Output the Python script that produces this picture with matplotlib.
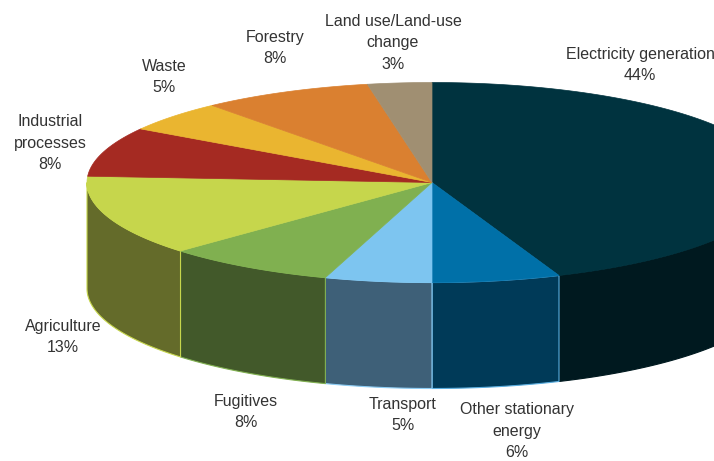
import numpy as np
import matplotlib.pyplot as plt
from matplotlib.patches import Polygon

# slices, clockwise from 12 o'clock
labels = ["Electricity generation", "Other stationary\nenergy", "Transport", "Fugitives",
          "Agriculture", "Industrial\nprocesses", "Waste", "Forestry", "Land use/Land-use\nchange"]
shares = [44, 6, 5, 8, 13, 8, 5, 8, 3]

top_colors = ["#00333f", "#0070a8", "#7dc5f0", "#80b050", "#c6d64c",
              "#a52a22", "#eab530", "#da8030", "#a08f72"]
side_colors = ["#00191f", "#003a58", "#3e6078", "#42592a", "#646b2a",
               "#5a1712", "#8a6a1c", "#7e4a1c", "#5e5443"]
edge_colors = ["#00191f", "#5aaee0", "#8ccdf5", "#80b050", "#c6d64c",
               "#5a1712", "#8a6a1c", "#7e4a1c", "#5e5443"]

# label anchor (pixel) for each slice
label_xy = [(640, 65), (517, 431), (403, 415), (246, 412), (63, 337),
            (50, 143), (164, 77), (275, 48), (393, 43)]

cx, cy, rx, ry, depth = 432, 182.5, 345, 100, 106

plt.rcParams['font.family'] = ['Liberation Sans Narrow', 'Liberation Sans', 'DejaVu Sans']

fig = plt.figure(figsize=(7.14, 4.61), dpi=100)
ax = fig.add_axes([0, 0, 1, 1])
ax.set_xlim(0, 714)
ax.set_ylim(461, 0)
ax.axis('off')


def arc(t0, t1, dy=0, n=200):
    t = np.radians(np.linspace(t0, t1, n))
    return np.column_stack([cx + rx * np.cos(t), cy - ry * np.sin(t) + dy])


bounds = 90 - np.concatenate([[0], np.cumsum(shares)]) * 3.6

# side walls (front half only: angles between -180 and 0)
for i in range(len(shares)):
    a_start, a_end = bounds[i], bounds[i + 1]
    for lo, hi in [(-180, 0), (-540, -360)]:
        s = min(a_start, hi)
        e = max(a_end, lo)
        if s > e:
            top = arc(s, e)
            bot = arc(e, s, depth)
            ax.add_patch(Polygon(np.vstack([top, bot]), closed=True,
                                 facecolor=side_colors[i], edgecolor=edge_colors[i],
                                 linewidth=0.8, zorder=1))

# top faces
for i in range(len(shares)):
    pts = np.vstack([[cx, cy], arc(bounds[i], bounds[i + 1])])
    ax.add_patch(Polygon(pts, closed=True, facecolor=top_colors[i],
                         edgecolor=top_colors[i], linewidth=0.5, zorder=2))

for i in range(len(shares)):
    x, y = label_xy[i]
    ax.text(x, y, f"{labels[i]}\n{shares[i]}%", ha='center', va='center',
            fontsize=11.5, color='#333333', linespacing=1.55, zorder=3)

fig.savefig("out.png", dpi=100)
